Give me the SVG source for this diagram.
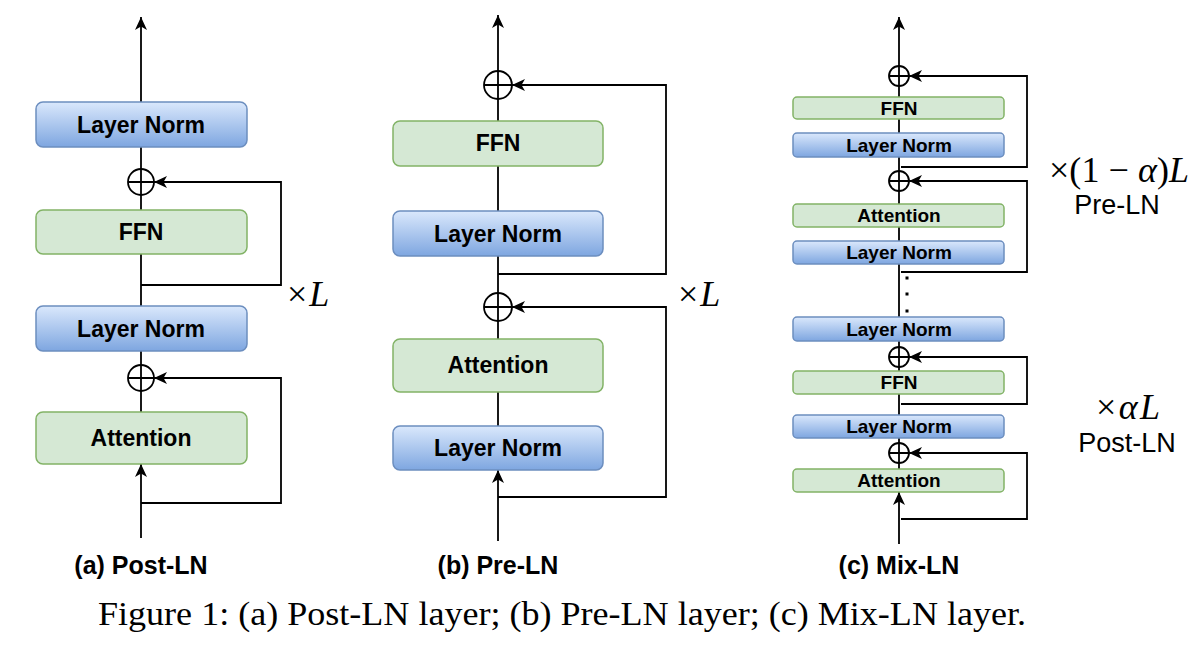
<svg xmlns="http://www.w3.org/2000/svg" width="1194" height="646" viewBox="0 0 1194 646">
<defs>
<linearGradient id="blueGrad" x1="0" y1="0" x2="0" y2="1">
<stop offset="0" stop-color="#dae8fc"/>
<stop offset="1" stop-color="#7ea6e0"/>
</linearGradient>
<marker id="arr" viewBox="0 0 14 12" refX="13" refY="6" markerWidth="14" markerHeight="12" markerUnits="userSpaceOnUse" orient="auto">
<path d="M0,0 L13,6 L0,12 L3.5,6 Z" fill="#000"/>
</marker>
</defs>
<style>
.ln{fill:url(#blueGrad);stroke:#6c8ebf;stroke-width:1.5}
.gr{fill:#d5e8d4;stroke:#82b366;stroke-width:1.5}
.big{font-family:"Liberation Sans",Arial,sans-serif;font-weight:bold;font-size:23px;text-anchor:middle;fill:#000}
.sm{font-family:"Liberation Sans",Arial,sans-serif;font-weight:bold;font-size:19px;text-anchor:middle;fill:#000}
.edge{fill:none;stroke:#000;stroke-width:1.8}
.sum{fill:#fff;stroke:#000;stroke-width:1.8}
.lab{font-family:"Liberation Sans",Arial,sans-serif;font-weight:bold;font-size:25px;text-anchor:middle;fill:#000}
.math{font-family:"Liberation Serif","Times New Roman",serif;font-size:36px;fill:#000}
.mi{font-style:italic}
.reg{font-family:"Liberation Sans",Arial,sans-serif;font-size:27px;text-anchor:middle;fill:#000}
.cap{font-family:"Liberation Serif","Times New Roman",serif;font-size:34px;fill:#000}
</style>
<rect width="1194" height="646" fill="#fff"/>

<g id="connectors">
<!-- (a) -->
<path class="edge" d="M141,538 L141,464" marker-end="url(#arr)"/>
<path class="edge" d="M141,412 L141,391"/>
<path class="edge" d="M141,365 L141,351"/>
<path class="edge" d="M141,306 L141,254"/>
<path class="edge" d="M141,210 L141,195"/>
<path class="edge" d="M141,169 L141,147"/>
<path class="edge" d="M141,102 L141,17" marker-end="url(#arr)"/>
<path class="edge" d="M141,503 L281,503 L281,378 L154,378" marker-end="url(#arr)"/>
<path class="edge" d="M141,285 L281,285 L281,182 L154,182" marker-end="url(#arr)"/>
<!-- (b) -->
<path class="edge" d="M498,541 L498,470" marker-end="url(#arr)"/>
<path class="edge" d="M498,426 L498,392"/>
<path class="edge" d="M498,339 L498,321"/>
<path class="edge" d="M498,293 L498,256"/>
<path class="edge" d="M498,211 L498,166"/>
<path class="edge" d="M498,121 L498,99"/>
<path class="edge" d="M498,71 L498,15" marker-end="url(#arr)"/>
<path class="edge" d="M498,497 L666,497 L666,307 L512,307" marker-end="url(#arr)"/>
<path class="edge" d="M498,274 L666,274 L666,85 L512,85" marker-end="url(#arr)"/>
<!-- (c) -->
<path class="edge" d="M899,544 L899,492" marker-end="url(#arr)"/>
<path class="edge" d="M899,469 L899,463"/>
<path class="edge" d="M899,443 L899,438"/>
<path class="edge" d="M899,415 L899,394"/>
<path class="edge" d="M899,371 L899,367"/>
<path class="edge" d="M899,347 L899,341"/>
<path class="edge" d="M899,317 L899,264"/>
<path class="edge" d="M899,241 L899,227"/>
<path class="edge" d="M899,204 L899,191"/>
<path class="edge" d="M899,171 L899,157"/>
<path class="edge" d="M899,133 L899,119"/>
<path class="edge" d="M899,97 L899,86"/>
<path class="edge" d="M899,66 L899,17" marker-end="url(#arr)"/>
<path class="edge" d="M901,519 L1027,519 L1027,453 L909,453" marker-end="url(#arr)"/>
<path class="edge" d="M901,404 L1027,404 L1027,357 L909,357" marker-end="url(#arr)"/>
<path class="edge" d="M901,272 L1027,272 L1027,181 L909,181" marker-end="url(#arr)"/>
<path class="edge" d="M901,167 L1027,167 L1027,76 L909,76" marker-end="url(#arr)"/>
</g>

<!-- (a) Post-LN nodes -->
<g id="a-ln-top"><rect class="ln" x="36" y="102" width="211" height="45" rx="7"/><text class="big" x="141" y="133">Layer Norm</text></g>
<g id="a-sum-top"><circle class="sum" cx="141" cy="182" r="13"/><path class="edge" d="M128,182 H154 M141,169 V195"/></g>
<g id="a-ffn"><rect class="gr" x="36" y="210" width="211" height="44" rx="7"/><text class="big" x="141" y="240">FFN</text></g>
<g id="a-ln-mid"><rect class="ln" x="36" y="306" width="211" height="45" rx="7"/><text class="big" x="141" y="337">Layer Norm</text></g>
<g id="a-sum-bot"><circle class="sum" cx="141" cy="378" r="13"/><path class="edge" d="M128,378 H154 M141,365 V391"/></g>
<g id="a-attn"><rect class="gr" x="36" y="412" width="211" height="52" rx="7"/><text class="big" x="141" y="446">Attention</text></g>
<g id="a-times"><text class="math" x="287" y="306">×<tspan class="mi" dx="2">L</tspan></text></g>
<g id="a-label"><text class="lab" x="141" y="574">(a) Post-LN</text></g>

<!-- (b) Pre-LN nodes -->
<g id="b-sum-top"><circle class="sum" cx="498" cy="85" r="14"/><path class="edge" d="M484,85 H512 M498,71 V99"/></g>
<g id="b-ffn"><rect class="gr" x="393" y="121" width="210" height="45" rx="7"/><text class="big" x="498" y="151">FFN</text></g>
<g id="b-ln-top"><rect class="ln" x="393" y="211" width="210" height="45" rx="7"/><text class="big" x="498" y="242">Layer Norm</text></g>
<g id="b-sum-bot"><circle class="sum" cx="498" cy="307" r="14"/><path class="edge" d="M484,307 H512 M498,293 V321"/></g>
<g id="b-attn"><rect class="gr" x="393" y="339" width="210" height="53" rx="7"/><text class="big" x="498" y="373">Attention</text></g>
<g id="b-ln-bot"><rect class="ln" x="393" y="426" width="210" height="44" rx="7"/><text class="big" x="498" y="456">Layer Norm</text></g>
<g id="b-times"><text class="math" x="678" y="306">×<tspan class="mi" dx="2">L</tspan></text></g>
<g id="b-label"><text class="lab" x="498" y="574">(b) Pre-LN</text></g>

<!-- (c) Mix-LN nodes -->
<g id="c-sum-1"><circle class="sum" cx="899" cy="76" r="10"/><path class="edge" d="M889,76 H909 M899,66 V86"/></g>
<g id="c-ffn-1"><rect class="gr" x="793" y="97" width="211" height="22" rx="4"/><text class="sm" x="899" y="115">FFN</text></g>
<g id="c-ln-1"><rect class="ln" x="793" y="133" width="211" height="24" rx="4"/><text class="sm" x="899" y="152">Layer Norm</text></g>
<g id="c-sum-2"><circle class="sum" cx="899" cy="181" r="10"/><path class="edge" d="M889,181 H909 M899,171 V191"/></g>
<g id="c-attn-1"><rect class="gr" x="793" y="204" width="211" height="23" rx="4"/><text class="sm" x="899" y="222">Attention</text></g>
<g id="c-ln-2"><rect class="ln" x="793" y="241" width="211" height="23" rx="4"/><text class="sm" x="899" y="259">Layer Norm</text></g>
<g id="c-dots"><rect x="905.5" y="276.5" width="3" height="3" fill="#000"/><rect x="905.5" y="292.5" width="3" height="3" fill="#000"/><rect x="905.5" y="309.5" width="3" height="3" fill="#000"/></g>
<g id="c-ln-3"><rect class="ln" x="793" y="317" width="211" height="24" rx="4"/><text class="sm" x="899" y="336">Layer Norm</text></g>
<g id="c-sum-3"><circle class="sum" cx="899" cy="357" r="10"/><path class="edge" d="M889,357 H909 M899,347 V367"/></g>
<g id="c-ffn-2"><rect class="gr" x="793" y="371" width="211" height="23" rx="4"/><text class="sm" x="899" y="389">FFN</text></g>
<g id="c-ln-4"><rect class="ln" x="793" y="415" width="211" height="23" rx="4"/><text class="sm" x="899" y="433">Layer Norm</text></g>
<g id="c-sum-4"><circle class="sum" cx="899" cy="453" r="10"/><path class="edge" d="M889,453 H909 M899,443 V463"/></g>
<g id="c-attn-2"><rect class="gr" x="793" y="469" width="211" height="23" rx="4"/><text class="sm" x="899" y="487">Attention</text></g>
<g id="c-pre"><text class="math" x="1049" y="182" textLength="140" lengthAdjust="spacing">×(1 − <tspan class="mi">α</tspan>)<tspan class="mi">L</tspan></text><text class="reg" x="1117" y="214">Pre-LN</text></g>
<g id="c-post"><text class="math" x="1096" y="419" textLength="64" lengthAdjust="spacing">×<tspan class="mi">αL</tspan></text><text class="reg" x="1127" y="452">Post-LN</text></g>
<g id="c-label"><text class="lab" x="899" y="574">(c) Mix-LN</text></g>

<text class="cap" x="98" y="625" textLength="928" lengthAdjust="spacingAndGlyphs">Figure 1: (a) Post-LN layer; (b) Pre-LN layer; (c) Mix-LN layer.</text>
</svg>
